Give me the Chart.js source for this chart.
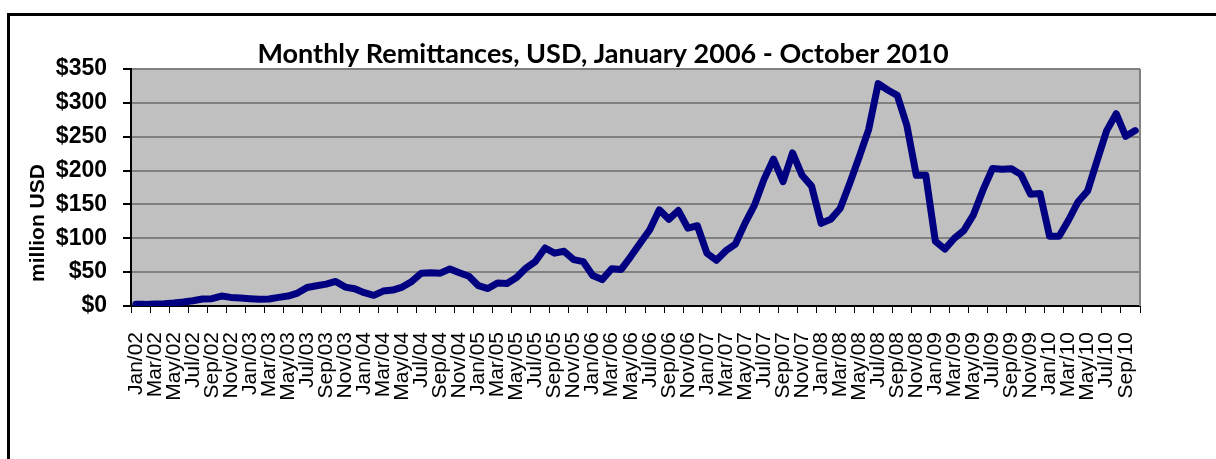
<!DOCTYPE html>
<html>
<head>
<meta charset="utf-8">
<script src="https://cdn.jsdelivr.net/npm/chart.js@4/dist/chart.umd.min.js"></script>
<style>
  html, body { margin: 0; padding: 0; background: #fff; }
  #wrap { width: 1216px; height: 459px; }
</style>
</head>
<body>
<div id="wrap"><canvas id="remitChart" width="1216" height="459"></canvas></div>
<script>
// Months on the x axis, Jan/02 .. Oct/10
const monthLabels = [
  'Jan/02','Feb/02','Mar/02','Apr/02','May/02','Jun/02','Jul/02','Aug/02','Sep/02','Oct/02','Nov/02','Dec/02',
  'Jan/03','Feb/03','Mar/03','Apr/03','May/03','Jun/03','Jul/03','Aug/03','Sep/03','Oct/03','Nov/03','Dec/03',
  'Jan/04','Feb/04','Mar/04','Apr/04','May/04','Jun/04','Jul/04','Aug/04','Sep/04','Oct/04','Nov/04','Dec/04',
  'Jan/05','Feb/05','Mar/05','Apr/05','May/05','Jun/05','Jul/05','Aug/05','Sep/05','Oct/05','Nov/05','Dec/05',
  'Jan/06','Feb/06','Mar/06','Apr/06','May/06','Jun/06','Jul/06','Aug/06','Sep/06','Oct/06','Nov/06','Dec/06',
  'Jan/07','Feb/07','Mar/07','Apr/07','May/07','Jun/07','Jul/07','Aug/07','Sep/07','Oct/07','Nov/07','Dec/07',
  'Jan/08','Feb/08','Mar/08','Apr/08','May/08','Jun/08','Jul/08','Aug/08','Sep/08','Oct/08','Nov/08','Dec/08',
  'Jan/09','Feb/09','Mar/09','Apr/09','May/09','Jun/09','Jul/09','Aug/09','Sep/09','Oct/09','Nov/09','Dec/09',
  'Jan/10','Feb/10','Mar/10','Apr/10','May/10','Jun/10','Jul/10','Aug/10','Sep/10','Oct/10'
];

// million USD
const remittances = [
  2.4, 2.4, 2.9, 3.4, 4.4, 5.9, 7.8, 10.3, 10.8, 14.7, 12.7, 11.7,
  10.8, 9.8, 10.3, 12.7, 14.7, 19.1, 27.4, 29.9, 32.3, 36.2, 27.9, 25.4,
  19.6, 15.7, 22.0, 23.5, 27.9, 36.2, 48.5, 49.0, 48.5, 54.8, 49.0, 44.0,
  30.0, 25.8, 34.0, 33.3, 42.0, 56.0, 66.0, 85.7, 78.0, 80.8, 68.5, 65.6,
  45.0, 39.0, 55.0, 54.0, 73.0, 93.0, 112.6, 142.0, 128.0, 141.0, 115.0, 118.5,
  78.0, 67.5, 81.7, 91.5, 122.0, 149.0, 187.0, 217.0, 183.5, 226.0, 193.0, 177.0,
  122.0, 128.0, 144.0, 181.0, 220.0, 261.0, 328.5, 319.0, 311.0, 267.0, 193.0, 193.0,
  95.5, 84.0, 100.0, 111.6, 134.6, 171.0, 203.0, 202.0, 202.6, 194.0, 165.0, 166.0,
  103.0, 103.0, 127.0, 154.0, 170.0, 215.0, 259.0, 284.0, 250.6, 259.0
];

const yTickValues = [0, 50, 100, 150, 200, 250, 300, 350];
const chartTitle = 'Monthly Remittances, USD, January 2006 - October 2010';
const yAxisTitle = 'million USD';

const tickFont = "'Liberation Sans', Arial, sans-serif";

// grey plot area, frame round the chart, titles
const chartDecor = {
  id: 'chartDecor',
  beforeDraw(chart) {
    const { ctx, chartArea: a } = chart;
    ctx.save();
    ctx.fillStyle = '#ffffff';
    ctx.fillRect(0, 0, chart.width, chart.height);
    ctx.fillStyle = '#c0c0c0';
    ctx.fillRect(a.left, a.top, a.right - a.left, a.bottom - a.top);
    ctx.strokeStyle = '#000';
    ctx.lineWidth = 3;
    ctx.beginPath();
    ctx.moveTo(8.5, chart.height);
    ctx.lineTo(8.5, 14.5);
    ctx.lineTo(chart.width, 14.5);
    ctx.stroke();
    ctx.restore();
  },
  beforeDatasetsDraw(chart) {
    const { ctx, chartArea: a } = chart;
    ctx.save();
    ctx.strokeStyle = '#808080';
    ctx.lineWidth = 2;
    ctx.beginPath();
    ctx.moveTo(a.right, a.top);
    ctx.lineTo(a.right, a.bottom);
    ctx.stroke();
    ctx.restore();
  },
  afterDraw(chart) {
    const ctx = chart.ctx;
    ctx.save();
    ctx.fillStyle = '#000';
    ctx.textAlign = 'center';
    ctx.textBaseline = 'alphabetic';
    ctx.font = "bold 27px Lato, 'Liberation Sans', sans-serif";
    ctx.fillText(chartTitle, 603, 63);
    ctx.translate(38, 223);
    ctx.rotate(-Math.PI / 2);
    ctx.font = 'bold 21px ' + tickFont;
    ctx.textBaseline = 'middle';
    ctx.fillText(yAxisTitle, 0, 0);
    ctx.restore();
  }
};

new Chart(document.getElementById('remitChart'), {
  type: 'line',
  data: {
    labels: monthLabels,
    datasets: [{
      data: remittances,
      borderColor: '#000080',
      borderWidth: 7,
      borderCapStyle: 'round',
      borderJoinStyle: 'round',
      pointRadius: 0,
      tension: 0,
      fill: false
    }]
  },
  options: {
    responsive: false,
    animation: false,
    layout: { padding: { left: 0, right: 76, top: 69, bottom: 0 } },
    plugins: {
      legend: { display: false },
      tooltip: { enabled: false },
      title: { display: false }
    },
    scales: {
      x: {
        type: 'category',
        offset: true,
        afterFit: s => { s.height = 153; },
        grid: {
          offset: true,
          drawOnChartArea: false,
          tickLength: 7,
          tickColor: c => (c.index === undefined || c.index % 2 === 0) ? '#000' : 'rgba(0,0,0,0)'
        },
        border: { color: '#000', width: 2 },
        ticks: {
          autoSkip: false,
          minRotation: 90,
          maxRotation: 90,
          padding: 19,
          color: '#000',
          font: { family: tickFont, size: 21 },
          callback: (v, i) => i % 2 === 0 ? monthLabels[i] : ''
        }
      },
      y: {
        min: 0,
        max: 350,
        afterFit: s => { s.width = 131; },
        afterBuildTicks: s => { s.ticks = yTickValues.map(v => ({ value: v })); },
        grid: {
          color: c => c.tick && c.tick.value === 0 ? '#000' : '#808080',
          lineWidth: 2,
          tickLength: 8,
          tickColor: '#000'
        },
        border: { color: '#000', width: 2 },
        ticks: {
          padding: 16,
          color: '#000',
          font: { family: tickFont, size: 23, weight: 'bold' },
          callback: v => '$' + v
        }
      }
    }
  },
  plugins: [chartDecor]
});
</script>
</body>
</html>
